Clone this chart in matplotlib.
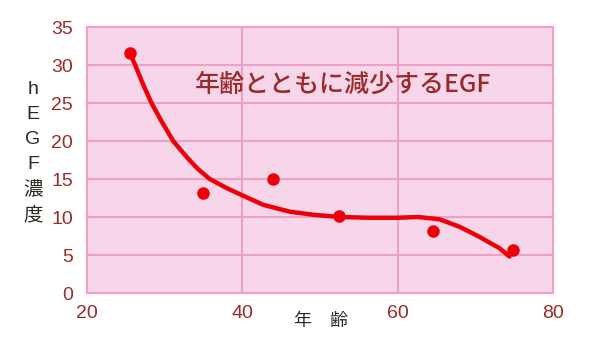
import matplotlib.pyplot as plt

plt.rcParams['font.family'] = ['Liberation Sans', 'Noto Sans CJK JP', 'DejaVu Sans']

# measured points
age = [25.5, 34.9, 44.0, 52.4, 64.5, 74.8]
egf = [31.6, 13.2, 15.0, 10.1, 8.2, 5.6]

# trend curve
curve_x = [25.5, 26.2, 27.2, 28.3, 29.65, 31.1, 32.0, 33.0, 34.3, 35.8, 38.0, 40.1,
           42.7, 46.1, 49.1, 52.5, 56.4, 60.0, 62.6, 65.4, 68.0, 70.5, 73.1, 74.4]
curve_y = [31.6, 30.0, 27.5, 25.0, 22.5, 20.0, 18.9, 17.7, 16.3, 15.0, 13.8, 12.8,
           11.6, 10.7, 10.3, 10.0, 9.9, 9.9, 10.0, 9.7, 8.7, 7.4, 5.9, 4.8]

x_ticks = [20, 40, 60, 80]
y_ticks = [0, 5, 10, 15, 20, 25, 30, 35]

red = '#ee0008'
label_red = '#9a2a2a'
pink_bg = '#f7d6ea'
grid_pink = '#eea0c8'

fig = plt.figure(figsize=(5.9, 3.51), dpi=100)
ax = fig.add_axes([87 / 590, 1 - 293 / 351, 466 / 590, 266 / 351])
ax.set_facecolor(pink_bg)

ax.set_xlim(20, 80)
ax.set_ylim(0, 35)
ax.set_xticks(x_ticks)
ax.set_yticks(y_ticks)
ax.grid(True, color=grid_pink, linewidth=1.5)
ax.set_axisbelow(True)
for s in ax.spines.values():
    s.set_color(grid_pink)
    s.set_linewidth(1.5)
ax.tick_params(length=0, labelsize=14, labelcolor=label_red)
ax.tick_params(axis='y', pad=10)
ax.tick_params(axis='x', pad=9)

ax.plot(curve_x, curve_y, color=red, linewidth=3.2, solid_capstyle='round',
        solid_joinstyle='round')
ax.plot(age, egf, 'o', color=red, markersize=8)

ax.text(33.9, 27.4, '年齢とともに減少するEGF', fontsize=18, color=label_red,
        ha='left', va='center', weight='medium', family=['Noto Sans CJK JP'])

fig.text(321 / 590, 1 - 321 / 351, '年\u3000齢', fontsize=13, color='#2a2a1e',
         ha='center', va='center', family=['Noto Sans CJK JP'])
fig.text(33 / 590, 1 - 153 / 351, '\n'.join('hEGF濃度'), fontsize=14,
         color='#2a2a1e', ha='center', va='center', linespacing=1.6,
         family=['Liberation Sans', 'Noto Sans CJK JP'])

fig.savefig('out.png', dpi=100)
